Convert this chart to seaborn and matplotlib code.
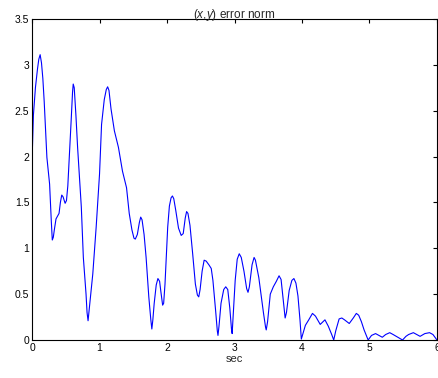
import numpy as np
import pandas as pd
import matplotlib
matplotlib.use("Agg")
import matplotlib.pyplot as plt
import seaborn as sns

# pontos (tempo em s, norma do erro)
t = [0.0, 0.02, 0.05, 0.08, 0.10, 0.12, 0.14, 0.16, 0.18, 0.22, 0.26, 0.285, 0.30, 0.315,
     0.33, 0.355, 0.40, 0.42, 0.44, 0.46, 0.49, 0.51, 0.53, 0.555, 0.58, 0.60, 0.61, 0.625,
     0.65, 0.675, 0.73, 0.76, 0.80, 0.815, 0.83, 0.865, 0.90, 0.95, 1.0, 1.03, 1.07, 1.10,
     1.12, 1.14, 1.17, 1.22, 1.28, 1.34, 1.40, 1.44, 1.48, 1.51, 1.53, 1.56, 1.59, 1.61,
     1.63, 1.66, 1.69, 1.73, 1.76, 1.775, 1.79, 1.81, 1.84, 1.865, 1.89, 1.91, 1.935,
     1.95, 1.97, 2.01, 2.035, 2.06, 2.08, 2.10, 2.13, 2.17, 2.21, 2.24, 2.27, 2.29, 2.31,
     2.34, 2.38, 2.42, 2.45, 2.47, 2.49, 2.52, 2.55, 2.58, 2.62, 2.655, 2.68, 2.72, 2.745,
     2.755, 2.77, 2.80, 2.84, 2.87, 2.90, 2.93, 2.955, 2.965, 2.975, 3.01, 3.04, 3.07,
     3.10, 3.14, 3.18, 3.20, 3.22, 3.26, 3.29, 3.31, 3.36, 3.43, 3.46, 3.47, 3.49, 3.53,
     3.575, 3.62, 3.66, 3.69, 3.72, 3.75, 3.77, 3.81, 3.85, 3.88, 3.91, 3.94, 3.97, 3.99,
     4.01, 4.05, 4.10, 4.155, 4.20, 4.27, 4.34, 4.39, 4.44, 4.47, 4.50, 4.55, 4.59, 4.63,
     4.70, 4.76, 4.805, 4.84, 4.88, 4.92, 4.98, 5.03, 5.09, 5.14, 5.19, 5.24, 5.30, 5.35,
     5.42, 5.49, 5.54, 5.58, 5.65, 5.70, 5.75, 5.82, 5.89, 5.94, 5.97, 6.0]
erro = [1.95, 2.45, 2.75, 2.95, 3.06, 3.11, 3.02, 2.85, 2.60, 1.99, 1.70, 1.30, 1.09, 1.12,
        1.20, 1.32, 1.38, 1.50, 1.58, 1.56, 1.49, 1.52, 1.68, 2.03, 2.40, 2.70, 2.79, 2.75,
        2.45, 2.10, 1.45, 0.90, 0.50, 0.30, 0.21, 0.47, 0.72, 1.23, 1.81, 2.35, 2.62, 2.73,
        2.76, 2.72, 2.52, 2.28, 2.10, 1.84, 1.66, 1.38, 1.20, 1.11, 1.10, 1.15, 1.28, 1.34,
        1.31, 1.15, 0.90, 0.47, 0.22, 0.12, 0.22, 0.40, 0.60, 0.67, 0.64, 0.52, 0.38,
        0.40, 0.61, 1.23, 1.46, 1.55, 1.57, 1.54, 1.41, 1.22, 1.14, 1.16, 1.33, 1.40, 1.38,
        1.25, 0.94, 0.61, 0.49, 0.47, 0.55, 0.75, 0.87, 0.86, 0.82, 0.78, 0.65, 0.32, 0.10,
        0.05, 0.15, 0.40, 0.55, 0.58, 0.55, 0.35, 0.12, 0.07, 0.20, 0.65, 0.88, 0.94,
        0.90, 0.75, 0.56, 0.52, 0.58, 0.82, 0.90, 0.87, 0.68, 0.29, 0.14, 0.11, 0.20, 0.50,
        0.58, 0.64, 0.70, 0.66, 0.45, 0.24, 0.30, 0.54, 0.65, 0.67, 0.62, 0.48, 0.22, 0.01,
        0.06, 0.16, 0.22, 0.29, 0.26, 0.17, 0.22, 0.15, 0.06, 0.0, 0.10, 0.23, 0.24, 0.22,
        0.18, 0.24, 0.29, 0.27, 0.20, 0.11, 0.0, 0.05, 0.07, 0.05, 0.03, 0.06, 0.08, 0.06,
        0.03, 0.0, 0.04, 0.06, 0.08, 0.06, 0.04, 0.07, 0.08, 0.06, 0.03, 0.0]

df = pd.DataFrame({"t": t, "erro": erro})

sns.set_style("white")
plt.rcParams["font.family"] = ["Liberation Sans", "DejaVu Sans"]
plt.rcParams["mathtext.fontset"] = "custom"
plt.rcParams["mathtext.it"] = "Liberation Sans:italic"
plt.rcParams["mathtext.rm"] = "Liberation Sans"

fig = plt.figure(figsize=(4.39, 3.78), dpi=100)
ax = fig.add_axes([0.073, 0.1005, 0.9224, 0.8495])

sns.lineplot(data=df, x="t", y="erro", color="#0000ff", lw=0.8, ax=ax)

ax.set_xlim(0, 6)
ax.set_ylim(0, 3.5)
ax.set_xticks(range(0, 7))
ax.set_yticks([0, 0.5, 1, 1.5, 2, 2.5, 3, 3.5])
ax.set_yticklabels(["0", "0.5", "1", "1.5", "2", "2.5", "3", "3.5"])
ax.tick_params(direction="in", length=3, width=0.8, labelsize=7.5, pad=2,
               top=True, right=True, colors="black")
for s in ax.spines.values():
    s.set_visible(True)
    s.set_color("black")
    s.set_linewidth(0.8)

ax.set_title(r"$\mathit{(x{,}y)}$ error norm", fontsize=8.5, pad=1)
ax.set_xlabel("sec", fontsize=8, labelpad=1)
ax.set_ylabel("")

fig.savefig("out.png", dpi=100)
